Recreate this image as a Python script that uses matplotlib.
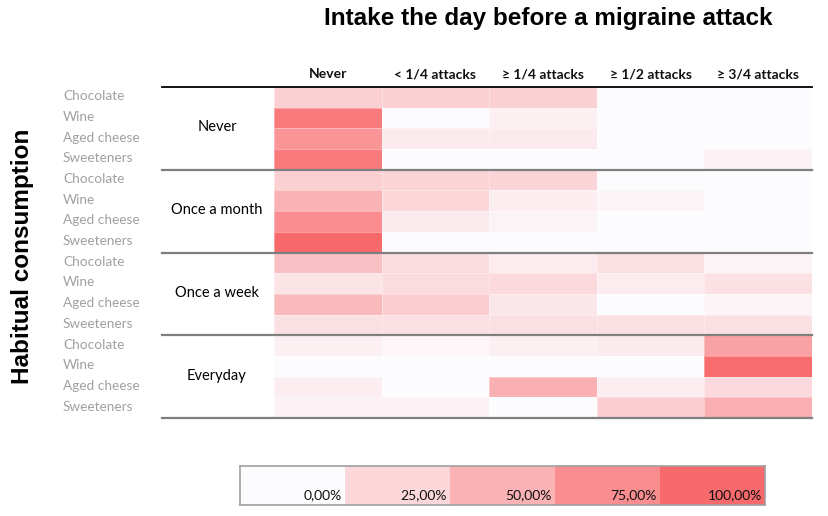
import matplotlib
matplotlib.use("Agg")
import matplotlib.pyplot as plt
import numpy as np
from matplotlib.colors import LinearSegmentedColormap

W, H = 829, 516
title = "Intake the day before a migraine attack"
ylabel = "Habitual consumption"
columns = ["Never", "< 1/4 attacks", "≥ 1/4 attacks", "≥ 1/2 attacks", "≥ 3/4 attacks"]
groups = ["Never", "Once a month", "Once a week", "Everyday"]
foods = ["Chocolate", "Wine", "Aged cheese", "Sweeteners"]
legend_labels = ["0,00%", "25,00%", "50,00%", "75,00%", "100,00%"]

never_vals = [[0.30, 0.30, 0.30, 0.00, 0.00],
              [0.88, 0.00, 0.08, 0.00, 0.00],
              [0.70, 0.12, 0.12, 0.00, 0.00],
              [0.88, 0.00, 0.00, 0.00, 0.07]]
month_vals = [[0.30, 0.27, 0.27, 0.00, 0.00],
              [0.50, 0.25, 0.10, 0.05, 0.00],
              [0.75, 0.12, 0.06, 0.00, 0.00],
              [1.00, 0.00, 0.00, 0.00, 0.00]]
week_vals = [[0.40, 0.22, 0.11, 0.20, 0.06],
             [0.17, 0.22, 0.24, 0.11, 0.18],
             [0.45, 0.32, 0.15, 0.00, 0.05],
             [0.19, 0.19, 0.19, 0.19, 0.19]]
everyday_vals = [[0.08, 0.04, 0.09, 0.12, 0.62],
                 [0.01, 0.00, 0.00, 0.00, 0.98],
                 [0.10, 0.00, 0.52, 0.10, 0.24],
                 [0.07, 0.07, 0.00, 0.32, 0.52]]
legend_vals = [0.0, 0.25, 0.5, 0.75, 1.0]

data = np.array(never_vals + month_vals + week_vals + everyday_vals)
cmap = LinearSegmentedColormap.from_list("xl", ["#FCFCFF", "#F8696B"])

fig = plt.figure(figsize=(W / 100, H / 100), dpi=100)

def fx(px):
    return px / W

def fy(py):
    return 1 - py / H

x0, x1, y0, y1 = 274, 812, 87, 418
ax = fig.add_axes([fx(x0), fy(y1), fx(x1) - fx(x0), fy(y0) - fy(y1)])
ax.pcolormesh(data, cmap=cmap, vmin=0, vmax=1, edgecolors=(1, 1, 1, 0.35), linewidth=0.4)
ax.set_xlim(0, len(columns))
ax.set_ylim(data.shape[0], 0)
ax.axis("off")

xmin_frac = (162 - x0) / (x1 - x0)
ax.axhline(0, xmin=xmin_frac, xmax=1, color="black", lw=1.3, clip_on=False)
for g in range(1, len(groups) + 1):
    ax.axhline(g * len(foods), xmin=xmin_frac, xmax=1, color="#7f7f7f", lw=1.6, clip_on=False)

fam = ["Lato", "DejaVu Sans"]
# column headers
for j, c in enumerate(columns):
    ax.text(j + 0.5, -0.62, c, ha="center", va="center", fontsize=10, fontweight="bold",
            family=fam, color="#111111")

# row labels
for i in range(data.shape[0]):
    ax.text(xmin_frac * len(columns) - 0.92, i + 0.45, foods[i % len(foods)], ha="left",
            va="center", fontsize=9.8, family=fam, color="#a0a0a0")

# group labels
for g, name in enumerate(groups):
    ax.text(((217 - x0) / (x1 - x0)) * len(columns), g * len(foods) + 1.95, name,
            ha="center", va="center", fontsize=10.5, family=fam, color="black")

fig.text(fx(548), fy(19), title, ha="center", va="center", fontsize=17.5, fontweight="bold",
         family=["Liberation Sans Narrow", "Liberation Sans", "DejaVu Sans"])
fig.text(fx(23), fy(256), ylabel, ha="center", va="center", rotation=90, fontsize=17.5,
         fontweight="bold", family=["Liberation Sans", "DejaVu Sans"])

# legend
lax = fig.add_axes([fx(240), fy(505), fx(765) - fx(240), fy(466) - fy(505)])
lax.pcolormesh(np.array([legend_vals]), cmap=cmap, vmin=0, vmax=1)
lax.set_xlim(0, len(legend_vals))
lax.set_ylim(0, 1)
lax.set_xticks([])
lax.set_yticks([])
for s in lax.spines.values():
    s.set_color("#a0a0a0")
    s.set_linewidth(1.2)
for k, lab in enumerate(legend_labels):
    lax.text(k + 0.97, 0.24, lab, ha="right", va="center", fontsize=10, family=fam, color="#111111")

fig.savefig("out.png", dpi=100, facecolor="white")
